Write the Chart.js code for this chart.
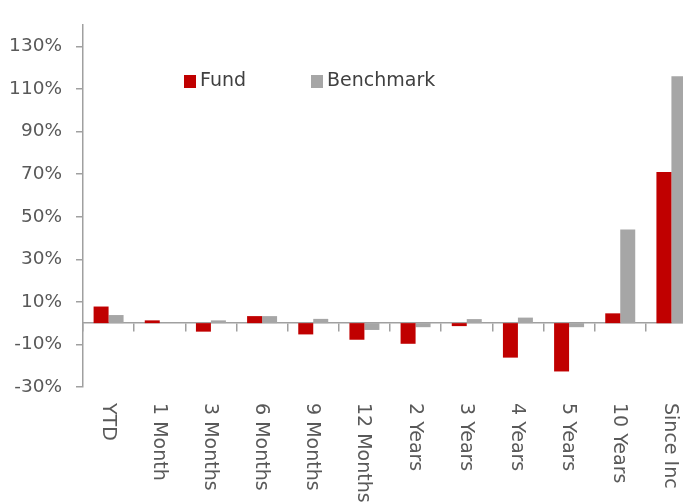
<!DOCTYPE html>
<html lang="en">
<head>
<meta charset="UTF-8" />
<title>Fund vs Benchmark</title>
<script src="https://cdn.jsdelivr.net/npm/chart.js"></script>
<style>
  html, body { margin: 0; padding: 0; background: #fff; overflow: hidden; }
  #wrap { position: relative; width: 700px; height: 560px; }
</style>
</head>
<body>
<div id="wrap"><canvas id="perfChart"></canvas></div>
<script>
  // data (percent)
  const periods = ["YTD", "1 Month", "3 Months", "6 Months", "9 Months", "12 Months",
                   "2 Years", "3 Years", "4 Years", "5 Years", "10 Years", "Since Inc"];
  const fundReturns = [7.8, 1.3, -4.0, 3.3, -5.3, -7.8, -9.7, -1.4, -16.2, -22.7, 4.6, 71.0];
  const benchmarkReturns = [3.8, 0, 1.3, 3.3, 2.0, -3.2, -1.9, 1.9, 2.6, -1.9, 44.0, 116.0];
  const yTicks = [-30, -10, 10, 30, 50, 70, 90, 110, 130];

  const textColor = "#595959";
  const axisColor = "#a0a0a0";
  const font = '"DejaVu Sans", Verdana, sans-serif';

  // category labels, rotated clockwise (read top to bottom)
  const rotatedLabels = {
    id: "rotatedLabels",
    afterDraw(chart) {
      const { ctx, chartArea } = chart;
      const x = chart.scales.x;
      ctx.save();
      ctx.font = "19px " + font;
      ctx.fillStyle = textColor;
      ctx.textAlign = "left";
      ctx.textBaseline = "middle";
      periods.forEach((p, i) => {
        ctx.save();
        ctx.translate(x.getPixelForValue(i) - 1, chartArea.bottom + 16);
        ctx.rotate(Math.PI / 2);
        ctx.fillText(p, 0, 0);
        ctx.restore();
      });
      ctx.restore();
    }
  };

  // legend sitting inside the plot
  const innerLegend = {
    id: "innerLegend",
    afterDraw(chart) {
      const { ctx, chartArea } = chart;
      const starts = [101, 228];
      ctx.save();
      ctx.font = "19px " + font;
      ctx.textBaseline = "middle";
      chart.data.datasets.forEach((ds, i) => {
        const lx = chartArea.left + starts[i];
        const ly = 81;
        ctx.fillStyle = ds.backgroundColor;
        ctx.fillRect(lx, ly - 6, 12, 13);
        ctx.fillStyle = "#404040";
        ctx.fillText(ds.label, lx + 16, ly);
      });
      ctx.restore();
    }
  };

  new Chart(document.getElementById("perfChart"), {
    type: "bar",
    data: {
      labels: periods,
      datasets: [
        { label: "Fund", data: fundReturns, backgroundColor: "#c00000" },
        { label: "Benchmark", data: benchmarkReturns, backgroundColor: "#a6a6a6" }
      ]
    },
    options: {
      responsive: true,
      maintainAspectRatio: false,
      animation: false,
      categoryPercentage: 0.586,
      barPercentage: 1.0,
      layout: { padding: { top: 12, right: 3, bottom: 173, left: 0 } },
      plugins: { legend: { display: false }, tooltip: { enabled: false } },
      scales: {
        x: {
          position: { y: 0 },
          grid: {
            drawOnChartArea: false,
            drawTicks: true,
            tickLength: 8,
            color: axisColor,
            lineWidth: 1.5,
            offset: true
          },
          border: { display: true, color: axisColor, width: 1.5 },
          ticks: { display: false }
        },
        y: {
          min: -30,
          max: 140,
          afterBuildTicks: (scale) => {
            scale.ticks = yTicks.map(v => ({ value: v }));
          },
          afterFit: (scale) => { scale.width = 83; },
          grid: {
            drawOnChartArea: false,
            drawTicks: true,
            tickLength: 7,
            color: axisColor,
            lineWidth: 1.5
          },
          border: { display: true, color: axisColor, width: 1.5 },
          ticks: {
            padding: 14,
            color: textColor,
            font: { family: font, size: 18.5 },
            callback: (v) => v + "%"
          }
        }
      }
    },
    plugins: [rotatedLabels, innerLegend]
  });
</script>
</body>
</html>
